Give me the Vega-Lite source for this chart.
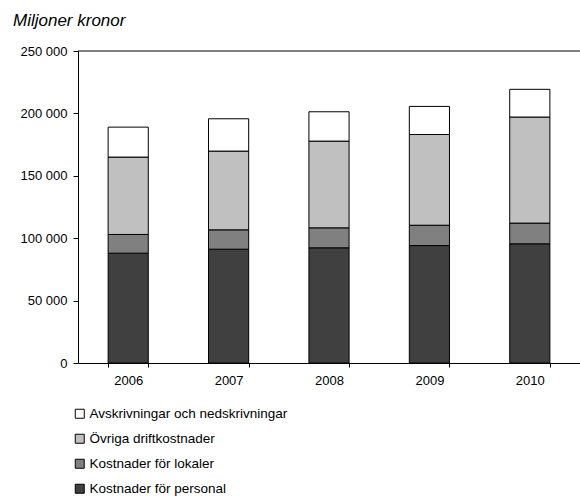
{
  "$schema": "https://vega.github.io/schema/vega-lite/v6.json",
  "autosize": {"type": "none"},
  "padding": {"left": 78, "top": 51, "right": 0, "bottom": 133},
  "width": 502,
  "height": 312,
  "background": "white",
  "config": {
    "font": "Liberation Sans",
    "view": {"stroke": null},
    "axis": {"domainColor": "black", "tickColor": "black", "labelColor": "black", "grid": false, "labelFont": "Liberation Sans", "labelFontSize": 13}
  },
  "title": {
    "text": "Miljoner kronor",
    "anchor": "start",
    "frame": "group",
    "fontStyle": "italic",
    "fontWeight": "normal",
    "fontSize": 17,
    "color": "black",
    "font": "Liberation Sans",
    "baseline": "alphabetic",
    "offset": 2,
    "dx": -65
  },
  "datasets": {
    "costs": [
      {"year": "2006", "kategori": "Kostnader för personal", "ord": 1, "value": 88000},
      {"year": "2006", "kategori": "Kostnader för lokaler", "ord": 2, "value": 15000},
      {"year": "2006", "kategori": "Övriga driftkostnader", "ord": 3, "value": 62000},
      {"year": "2006", "kategori": "Avskrivningar och nedskrivningar", "ord": 4, "value": 24000},
      {"year": "2007", "kategori": "Kostnader för personal", "ord": 1, "value": 91200},
      {"year": "2007", "kategori": "Kostnader för lokaler", "ord": 2, "value": 15500},
      {"year": "2007", "kategori": "Övriga driftkostnader", "ord": 3, "value": 63100},
      {"year": "2007", "kategori": "Avskrivningar och nedskrivningar", "ord": 4, "value": 25900},
      {"year": "2008", "kategori": "Kostnader för personal", "ord": 1, "value": 92300},
      {"year": "2008", "kategori": "Kostnader för lokaler", "ord": 2, "value": 16000},
      {"year": "2008", "kategori": "Övriga driftkostnader", "ord": 3, "value": 69500},
      {"year": "2008", "kategori": "Avskrivningar och nedskrivningar", "ord": 4, "value": 23500},
      {"year": "2009", "kategori": "Kostnader för personal", "ord": 1, "value": 94100},
      {"year": "2009", "kategori": "Kostnader för lokaler", "ord": 2, "value": 16300},
      {"year": "2009", "kategori": "Övriga driftkostnader", "ord": 3, "value": 72700},
      {"year": "2009", "kategori": "Avskrivningar och nedskrivningar", "ord": 4, "value": 22500},
      {"year": "2010", "kategori": "Kostnader för personal", "ord": 1, "value": 95500},
      {"year": "2010", "kategori": "Kostnader för lokaler", "ord": 2, "value": 16600},
      {"year": "2010", "kategori": "Övriga driftkostnader", "ord": 3, "value": 85000},
      {"year": "2010", "kategori": "Avskrivningar och nedskrivningar", "ord": 4, "value": 22200}
    ],
    "top": [{"y": 250000}]
  },
  "layer": [
    {
      "data": {"name": "costs"},
      "mark": {"type": "bar", "stroke": "black", "strokeWidth": 1},
      "encoding": {
        "x": {
          "field": "year", "type": "nominal",
          "scale": {"paddingInner": 0.6, "paddingOuter": 0.3},
          "axis": {"title": null, "labelAngle": 0, "tickBand": "extent", "tickSize": 4, "labelPadding": 7}
        },
        "y": {
          "field": "value", "type": "quantitative", "stack": "zero",
          "scale": {"domain": [0, 250000], "nice": false},
          "axis": {"title": null, "values": [0, 50000, 100000, 150000, 200000, 250000], "tickSize": 5, "labelPadding": 6,
                   "labelExpr": "replace(format(datum.value, ',d'), ',', ' ')"}
        },
        "color": {
          "field": "kategori", "type": "nominal",
          "scale": {
            "domain": ["Avskrivningar och nedskrivningar", "Övriga driftkostnader", "Kostnader för lokaler", "Kostnader för personal"],
            "range": ["#ffffff", "#c0c0c0", "#808080", "#404040"]
          },
          "legend": {
            "title": null, "orient": "none", "direction": "vertical",
            "legendX": -5, "legendY": 356,
            "symbolType": "square", "symbolSize": 81, "symbolStrokeColor": "black", "symbolStrokeWidth": 1,
            "labelFontSize": 13.5, "labelColor": "black", "labelOffset": 3, "labelLimit": 400, "rowPadding": 10
          }
        },
        "order": {"field": "ord", "type": "quantitative"}
      }
    },
    {
      "data": {"name": "top"},
      "mark": {"type": "rule", "color": "black", "strokeWidth": 1},
      "encoding": {"y": {"field": "y", "type": "quantitative"}}
    }
  ]
}
